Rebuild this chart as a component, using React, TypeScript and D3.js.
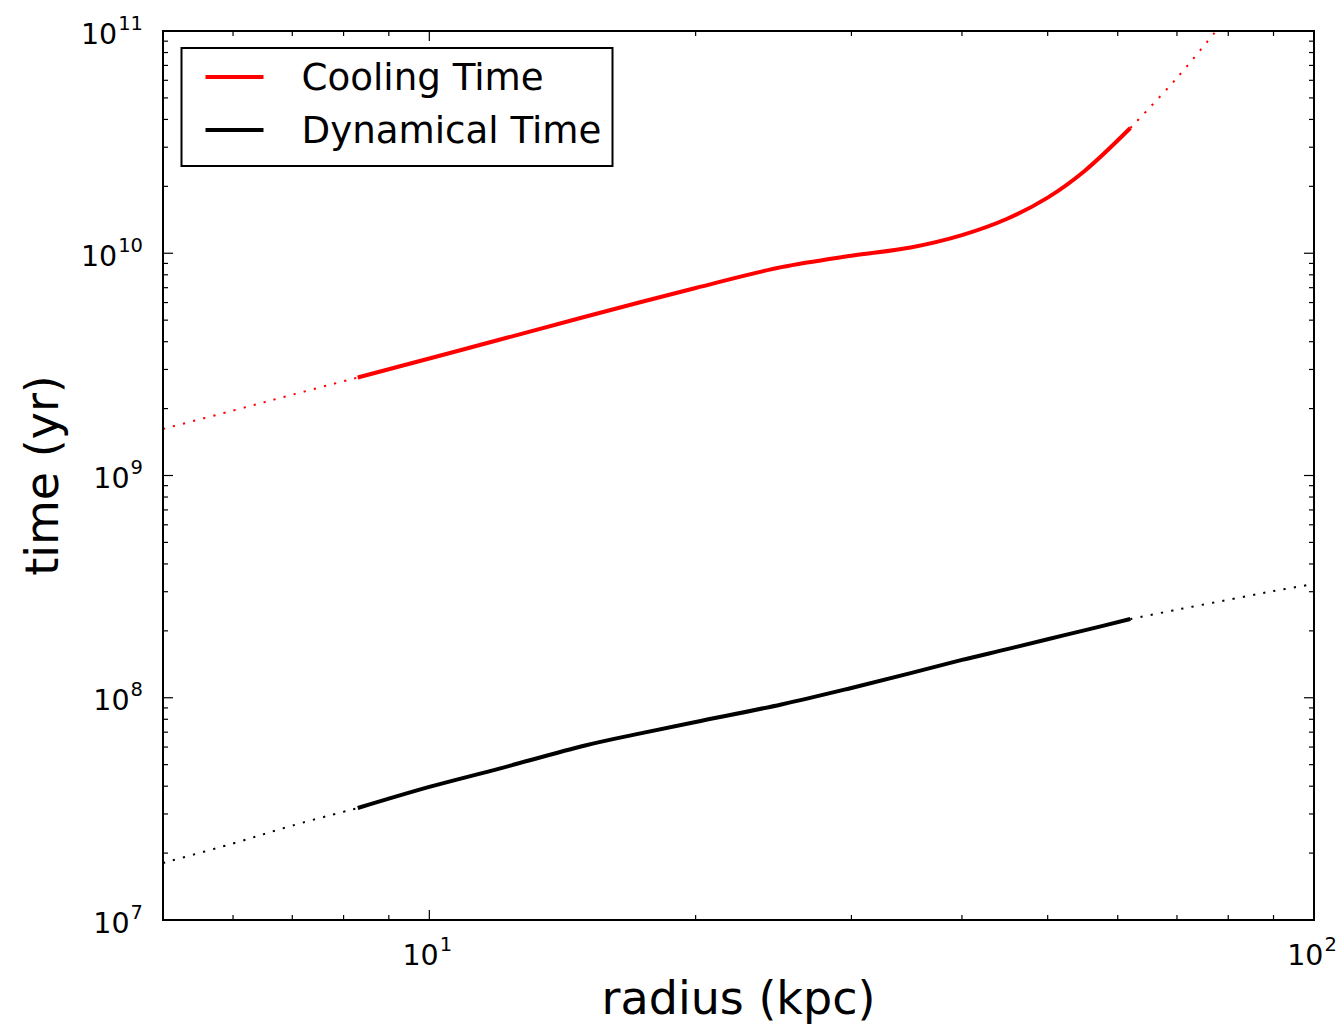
import React, { useEffect, useRef } from 'react';
import * as d3 from 'd3';

// radius in kpc, times in yr
const dynRadius = [5, 6, 7, 8.3, 10, 12, 15, 17, 20, 25, 30, 35, 40, 45, 50, 55, 62, 70, 80, 90, 100];
const dynamicalTime = [1.805e7, 2.21e7, 2.66e7, 3.19e7, 3.97e7, 4.8e7, 6.1e7, 6.81e7, 7.78e7, 9.33e7, 1.107e8, 1.29e8, 1.48e8, 1.655e8, 1.834e8, 2.01e8, 2.26e8, 2.49e8, 2.76e8, 3.02e8, 3.25e8];
const coolRadius = [5, 6, 7, 8.3, 10, 12, 15, 20, 25, 30, 35, 40, 45, 50, 55, 62, 70, 80];
const coolingTime = [1.62e9, 1.96e9, 2.31e9, 2.76e9, 3.36e9, 4.08e9, 5.18e9, 6.98e9, 8.66e9, 9.75e9, 1.062e10, 1.207e10, 1.43e10, 1.78e10, 2.34e10, 3.66e10, 6.15e10, 1.17e11];
const validRange = [8.3, 62];
const xMajor = [10, 100];
const yMajor = [1e7, 1e8, 1e9, 1e10, 1e11];
const legendLabels = ['Cooling Time', 'Dynamical Time'];

export default function App() {
  const ref = useRef<SVGSVGElement>(null);

  useEffect(() => {
    const svg = d3.select(ref.current);
    svg.selectAll('*').remove();

    const margin = { top: 31, right: 25, bottom: 105, left: 163 };
    const width = 1339 - margin.left - margin.right;
    const height = 1025 - margin.top - margin.bottom;
    const font = 'DejaVu Sans, sans-serif';

    const x = d3.scaleLog().domain([5, 100]).range([0, width]);
    const y = d3.scaleLog().domain([1e7, 1e11]).range([height, 0]);

    const g = svg.append('g').attr('transform', `translate(${margin.left},${margin.top})`);

    g.append('clipPath').attr('id', 'plot-clip')
      .append('rect').attr('width', width).attr('height', height);

    const line = d3.line<[number, number]>()
      .x(d => x(d[0]))
      .y(d => y(d[1]))
      .curve(d3.curveCatmullRom.alpha(0.5));

    const series = [
      { r: coolRadius, t: coolingTime, color: '#ff0000' },
      { r: dynRadius, t: dynamicalTime, color: '#000000' },
    ];

    series.forEach(s => {
      const pts: [number, number][] = s.r.map((r, i) => [r, s.t[i]]);
      const inner = pts.filter(p => p[0] >= validRange[0] && p[0] <= validRange[1]);
      const lo = pts.filter(p => p[0] <= validRange[0]);
      const hi = pts.filter(p => p[0] >= validRange[1]);
      [lo, hi].forEach(seg => {
        g.append('path')
          .attr('clip-path', 'url(#plot-clip)')
          .attr('d', line(seg))
          .attr('fill', 'none')
          .attr('stroke', s.color)
          .attr('stroke-width', 2)
          .attr('stroke-dasharray', '2.2 8.2');
      });
      g.append('path')
        .attr('clip-path', 'url(#plot-clip)')
        .attr('d', line(inner))
        .attr('fill', 'none')
        .attr('stroke', s.color)
        .attr('stroke-width', 4);
    });

    // ticks, inward on all four sides
    const xt = x.ticks();
    const yt = y.ticks();
    const isMajor = (v: number) => Math.abs(Math.log10(v) - Math.round(Math.log10(v))) < 1e-9;

    xt.forEach(v => {
      const len = isMajor(v) ? 10 : 5;
      const px = x(v);
      g.append('line').attr('x1', px).attr('x2', px).attr('y1', height).attr('y2', height - len)
        .attr('stroke', 'black').attr('stroke-width', 1.2);
      g.append('line').attr('x1', px).attr('x2', px).attr('y1', 0).attr('y2', len)
        .attr('stroke', 'black').attr('stroke-width', 1.2);
    });
    yt.forEach(v => {
      const len = isMajor(v) ? 10 : 5;
      const py = y(v);
      g.append('line').attr('x1', 0).attr('x2', len).attr('y1', py).attr('y2', py)
        .attr('stroke', 'black').attr('stroke-width', 1.2);
      g.append('line').attr('x1', width).attr('x2', width - len).attr('y1', py).attr('y2', py)
        .attr('stroke', 'black').attr('stroke-width', 1.2);
    });

    // frame
    g.append('rect')
      .attr('width', width).attr('height', height)
      .attr('fill', 'none').attr('stroke', 'black').attr('stroke-width', 2);

    // tick labels
    const sup = (t: d3.Selection<SVGTextElement, unknown, null, undefined>, v: number) => {
      t.append('tspan').text('10');
      t.append('tspan').attr('font-size', 19.5).attr('dx', 1).attr('dy', -14)
        .text(String(Math.round(Math.log10(v))));
    };
    xMajor.forEach(v => {
      const t = g.append('text')
        .attr('x', x(v) - 2).attr('y', height + 45)
        .attr('text-anchor', 'middle')
        .attr('font-family', font).attr('font-size', 28.5);
      sup(t, v);
    });
    yMajor.forEach(v => {
      const t = g.append('text')
        .attr('x', -20).attr('y', y(v) + 12.5)
        .attr('text-anchor', 'end')
        .attr('font-family', font).attr('font-size', 28.5);
      sup(t, v);
    });

    // axis labels
    g.append('text')
      .attr('x', width / 2).attr('y', height + 94)
      .attr('text-anchor', 'middle')
      .attr('font-family', font).attr('font-size', 46)
      .text('radius (kpc)');

    g.append('text')
      .attr('transform', `translate(${-105},${height / 2}) rotate(-90)`)
      .attr('text-anchor', 'middle')
      .attr('font-family', font).attr('font-size', 46)
      .text('time (yr)');

    // legend
    const legend = g.append('g').attr('transform', 'translate(18.5,17)');
    legend.append('rect')
      .attr('width', 431).attr('height', 118)
      .attr('fill', 'white').attr('stroke', 'black').attr('stroke-width', 2);
    legendLabels.forEach((label, i) => {
      const ly = 29 + i * 53;
      legend.append('line')
        .attr('x1', 24).attr('x2', 82).attr('y1', ly).attr('y2', ly)
        .attr('stroke', series[i].color).attr('stroke-width', 4);
      legend.append('text')
        .attr('x', 120).attr('y', ly + 13)
        .attr('font-family', font).attr('font-size', 37.2)
        .text(label);
    });
  }, []);

  return (
    <svg ref={ref} width={1339} height={1025}
      style={{ position: 'absolute', left: 0, top: 0, background: 'white' }} />
  );
}
